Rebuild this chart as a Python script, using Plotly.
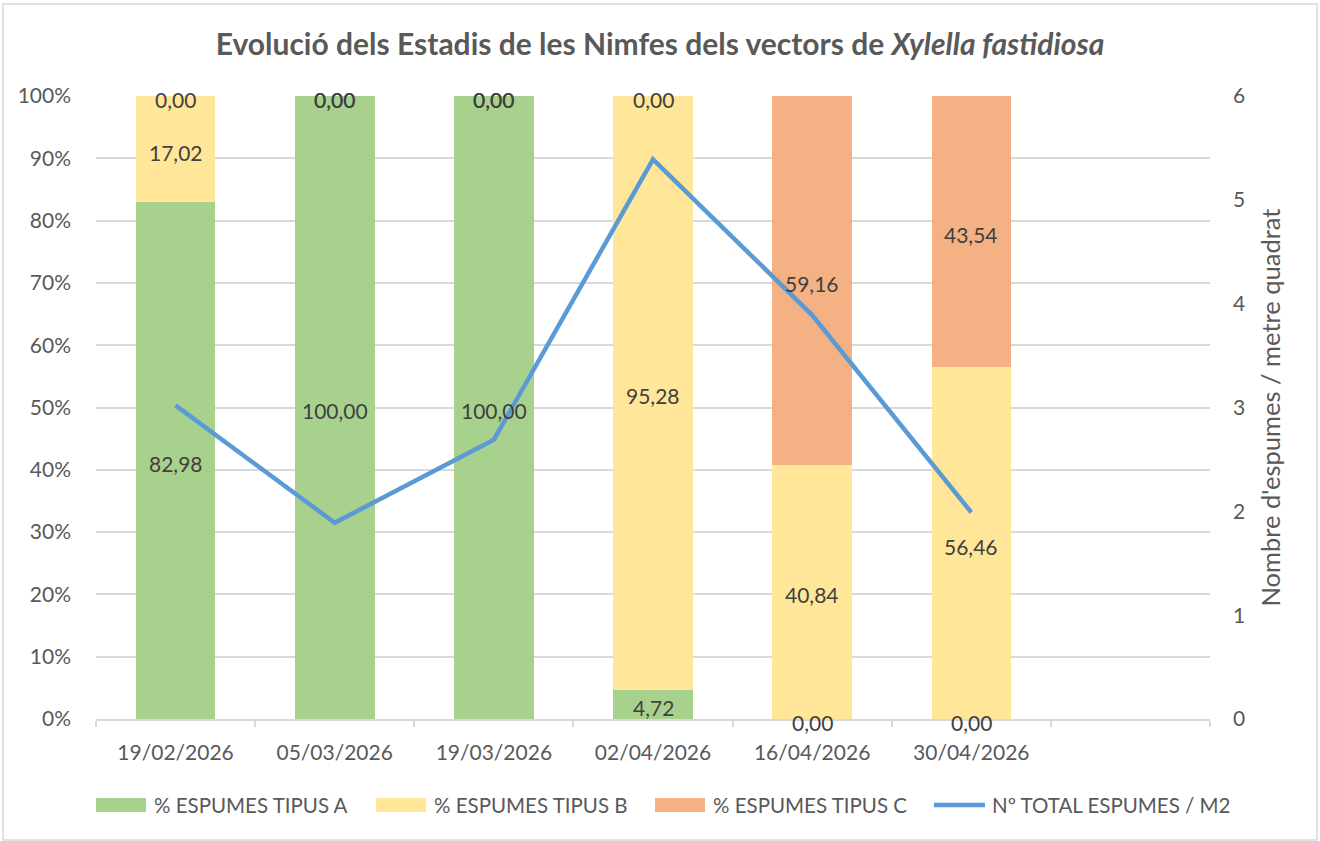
import plotly.graph_objects as go

dates = ["19/02/2026", "05/03/2026", "19/03/2026", "02/04/2026", "16/04/2026", "30/04/2026"]
tipus_a = [82.98, 100.00, 100.00, 4.72, 0.00, 0.00]
tipus_b = [17.02, 0.00, 0.00, 95.28, 40.84, 56.46]
tipus_c = [0.00, 0.00, 0.00, 0.00, 59.16, 43.54]
total_m2 = [3.02, 1.89, 2.69, 5.39, 3.89, 1.99]

names = ["% ESPUMES TIPUS A", "% ESPUMES TIPUS B", "% ESPUMES TIPUS C"]
line_name = "Nº TOTAL ESPUMES / M2"
colors = ["#a9d18e", "#ffe699", "#f4b183"]
line_color = "#5b9bd5"
FONT = "Lato, 'Open Sans', sans-serif"
TXT = "#595959"

# plot-area geometry in pixels (for paper-coordinate conversion)
L, R, T, B = 96, 1210, 96, 719
def px(x):
    return (x - L) / (R - L)
def py(y):
    return (B - y) / (B - T)

xs = list(range(len(dates)))
fig = go.Figure()

series = [tipus_a, tipus_b, tipus_c]
for vals, nm, col in zip(series, names, colors):
    fig.add_trace(go.Bar(x=xs, y=vals, name=nm, marker=dict(color=col, line=dict(width=0)),
                         width=0.5, yaxis="y", hoverinfo="skip", showlegend=False))

fig.add_trace(go.Scatter(x=xs, y=total_m2, name=line_name, mode="lines",
                         line=dict(color=line_color, width=4.5), yaxis="y2", showlegend=False))

annotations = []
# data labels at segment centres
for i in xs:
    base = 0.0
    for vals in series:
        v = vals[i]
        annotations.append(dict(x=i, y=base + v / 2, xref="x", yref="y",
                                text=f"{v:.2f}".replace(".", ","), showarrow=False,
                                yshift=-3, font=dict(family=FONT, size=21, color="#404040")))
        base += v

# manual legend (wide swatches as in the reference)
shapes = []
sw_x = [96, 376, 655]
for x0, col, nm in zip(sw_x, colors, names):
    shapes.append(dict(type="rect", xref="paper", yref="paper", x0=px(x0), x1=px(x0 + 50),
                       y0=py(812), y1=py(798), fillcolor=col, line=dict(width=0)))
    annotations.append(dict(x=px(x0 + 56), y=py(805), xref="paper", yref="paper", text=nm,
                            xanchor="left", yanchor="middle", showarrow=False,
                            font=dict(family=FONT, size=20.5, color=TXT)))
shapes.append(dict(type="line", xref="paper", yref="paper", x0=px(934), x1=px(985),
                   y0=py(805), y1=py(805), line=dict(color=line_color, width=4.5)))
annotations.append(dict(x=px(990), y=py(805), xref="paper", yref="paper", text=line_name,
                        xanchor="left", yanchor="middle", showarrow=False,
                        font=dict(family=FONT, size=20.5, color=TXT)))

# outer chart border
shapes.append(dict(type="rect", xref="paper", yref="paper",
                   x0=px(3), x1=px(1317), y0=py(840), y1=py(4),
                   line=dict(color="#d9d9d9", width=1.5), fillcolor="rgba(0,0,0,0)", layer="below"))

fig.update_layout(
    width=1320, height=841,
    barmode="stack",
    paper_bgcolor="white", plot_bgcolor="white",
    margin=dict(l=L, r=1320 - R, t=T, b=841 - B),
    font=dict(family=FONT, color=TXT, size=20),
    showlegend=False,
    title=dict(text="<b>Evolució dels Estadis de les Nimfes dels vectors de <i>Xylella fastidiosa</i></b>",
               x=0.5, xanchor="center", y=0.9465, yanchor="middle",
               font=dict(family=FONT, size=30, color=TXT)),
    xaxis=dict(range=[-0.5, 6.5], tickmode="array", tickvals=xs, ticktext=dates,
               ticks="", showgrid=False, zeroline=False,
               showline=True, linecolor="#d9d9d9", linewidth=1.5,
               tickfont=dict(size=21, color=TXT), ticklabelstandoff=14,
               minor=dict(tickmode="array", tickvals=[i - 0.5 for i in range(8)], ticks="outside",
                          ticklen=6, tickcolor="#d9d9d9", tickwidth=1.5, showgrid=False)),
    yaxis=dict(range=[0, 100], dtick=10, ticksuffix="%", showgrid=True, gridcolor="#d9d9d9",
               gridwidth=1.5, zeroline=False, showline=False, tickfont=dict(size=21, color=TXT),
               ticklabelstandoff=24),
    yaxis2=dict(range=[0, 6], dtick=1, overlaying="y", side="right", showgrid=False,
                zeroline=False, showline=False, tickfont=dict(size=21, color=TXT),
                title=dict(text="Nombre d'espumes / metre quadrat", font=dict(size=25.5, color=TXT), standoff=17),
                ticklabelstandoff=22),
    shapes=shapes,
    annotations=annotations,
)

fig.write_html("out.html", config={"displayModeBar": False},
               post_script="document.body.style.margin='0';document.body.style.padding='0';")
